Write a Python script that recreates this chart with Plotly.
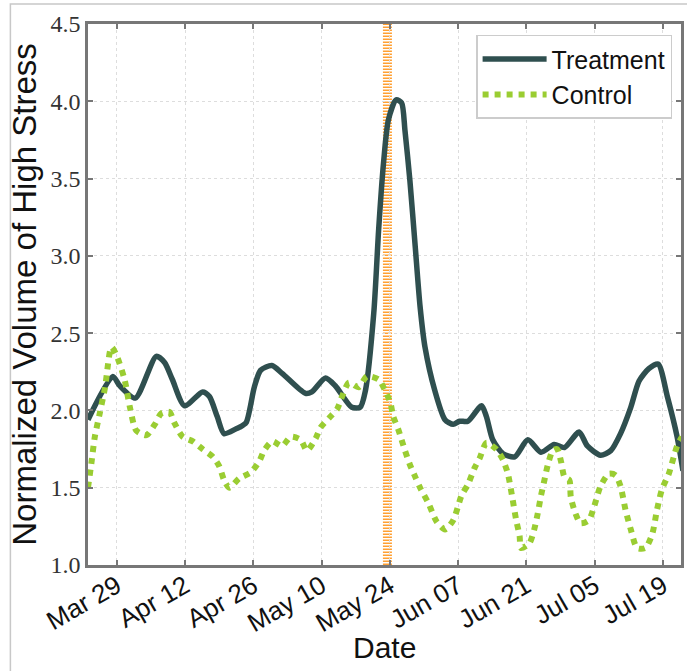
import pandas as pd
import plotly.graph_objects as go

# Day offsets relative to Mar 29
base_date = "2015-03-29"

treat_days = [-5.9, -0.8, 0.6, 3.8, 8.1, 9.8, 11.4, 13.9, 17.6, 19.0, 20.6, 22.0, 24.4, 25.1,
              26.5, 28.2, 29.5, 31.8, 33.9, 38.7, 40.0, 42.8, 44.8, 48.2, 49.9, 51.0, 52.7,
              53.7, 54.7, 55.7, 57.3, 58.4, 59.1, 60.1, 61.2, 62.2, 63.2, 65.2, 67.3, 69.0,
              70.3, 72.0, 74.8, 75.8, 77.1, 79.2, 81.6, 84.3, 87.0, 89.7, 91.8, 94.8, 96.5,
              99.2, 101.3, 103.3, 105.4, 107.1, 109.1, 111.0, 112.9, 114.9, 116.1]
treat_vals = [1.94, 2.22, 2.16, 2.08, 2.35, 2.31, 2.20, 2.03, 2.12, 2.09, 1.96, 1.85, 1.88, 1.89,
              1.92, 2.15, 2.26, 2.29, 2.24, 2.11, 2.12, 2.21, 2.16, 2.02, 2.02, 2.13, 2.63,
              3.17, 3.60, 3.88, 4.01, 3.99, 3.81, 3.49, 3.06, 2.67, 2.41, 2.13, 1.94, 1.91,
              1.93, 1.93, 2.03, 1.96, 1.81, 1.72, 1.70, 1.81, 1.73, 1.78, 1.76, 1.86, 1.77,
              1.71, 1.74, 1.85, 2.02, 2.19, 2.27, 2.30, 2.09, 1.83, 1.61]

ctrl_days = [-5.9, -5.2, -4.5, -3.5, -2.4, -1.1, -0.1, 1.6, 2.7, 4.0, 6.1, 7.8, 9.1, 10.8, 11.8,
             13.5, 15.6, 17.6, 19.7, 21.0, 22.0, 23.1, 25.1, 27.5, 29.2, 30.2, 31.9, 33.9,
             35.7, 37.7, 39.0, 40.8, 41.8, 43.5, 45.2, 46.2, 47.6, 49.6, 51.3, 53.7, 55.0,
             56.1, 56.7, 57.8, 59.1, 60.1, 61.2, 62.2, 63.9, 65.6, 67.3, 69.0, 70.7, 72.0,
             73.4, 74.4, 75.8, 77.8, 79.2, 80.2, 81.2, 81.9, 82.6, 82.9, 84.6, 85.6, 86.3,
             87.0, 87.7, 88.4, 89.4, 90.3, 91.1, 91.8, 92.8, 93.1, 94.1, 95.1, 96.8, 97.9,
             99.2, 100.9, 102.3, 103.3, 104.3, 105.4, 106.7, 108.4, 109.8, 110.8, 111.8,
             113.2, 114.9, 115.9]
ctrl_vals = [1.50, 1.66, 1.83, 1.98, 2.15, 2.41, 2.36, 2.20, 2.02, 1.87, 1.84, 1.91, 1.98, 1.99, 1.92,
             1.83, 1.80, 1.75, 1.70, 1.64, 1.55, 1.50, 1.56, 1.60, 1.67, 1.74, 1.80, 1.77,
             1.83, 1.81, 1.74, 1.82, 1.89, 1.95, 2.01, 2.09, 2.18, 2.15, 2.22, 2.20, 2.13,
             2.05, 1.96, 1.87, 1.74, 1.65, 1.57, 1.50, 1.40, 1.28, 1.23, 1.29, 1.45, 1.52,
             1.63, 1.69, 1.79, 1.75, 1.68, 1.59, 1.42, 1.29, 1.19, 1.11, 1.14, 1.23, 1.33,
             1.45, 1.55, 1.65, 1.74, 1.75, 1.67, 1.57, 1.55, 1.44, 1.33, 1.27, 1.29, 1.38,
             1.51, 1.59, 1.58, 1.51, 1.36, 1.23, 1.11, 1.11, 1.20, 1.36, 1.49,
             1.59, 1.77, 1.83]

event_day = 55.5
x_range_days = [-5.9, 115.7]
y_range = [1.0, 4.5]

tick_dates = ["2015-03-29", "2015-04-12", "2015-04-26", "2015-05-10", "2015-05-24",
              "2015-06-07", "2015-06-21", "2015-07-05", "2015-07-19"]
tick_labels = ["Mar 29", "Apr 12", "Apr 26", "May 10", "May 24",
               "Jun 07", "Jun 21", "Jul 05", "Jul 19"]
y_ticks = [1.0, 1.5, 2.0, 2.5, 3.0, 3.5, 4.0, 4.5]

b = pd.Timestamp(base_date)
to_date = lambda d: b + pd.to_timedelta(d, unit="D")
treat_x = [to_date(d) for d in treat_days]
ctrl_x = [to_date(d) for d in ctrl_days]
event_x = to_date(event_day)
xr = [to_date(d) for d in x_range_days]

fig = go.Figure()
fig.add_trace(go.Scatter(x=treat_x, y=treat_vals, mode="lines", name="Treatment",
                         line=dict(color="#2F4F4F", width=5.5, shape="spline", smoothing=0.7)))
fig.add_trace(go.Scatter(x=ctrl_x, y=ctrl_vals, mode="lines", name="Control",
                         line=dict(color="#9ACD32", width=6, dash="dot",
                                   shape="spline", smoothing=0.7)))

fig.add_shape(type="line", xref="x", yref="y", x0=event_x, x1=event_x, y0=1.0, y1=4.5,
              line=dict(color="#FFA033", width=9, dash="1.5px,1.5px"), layer="below")

# outer thin frame
fig.add_shape(type="rect", xref="paper", yref="paper",
              x0=(10 - 88) / 596, x1=1.2, y0=1 + 20 / 541, y1=-0.5,
              line=dict(color="#c8c8c8", width=1.5), layer="below")

axis_common = dict(showline=True, linecolor="#777777", linewidth=2.5, mirror="allticks",
                   ticks="inside", ticklen=5, tickcolor="#777777", tickwidth=1.5,
                   showgrid=True, gridcolor="#dddddd", griddash="dot", gridwidth=1,
                   zeroline=False)

fig.update_xaxes(type="date", range=xr, tickvals=[pd.Timestamp(t) for t in tick_dates],
                 ticktext=tick_labels, tickangle=-30, ticklabelstandoff=-7,
                 tickfont=dict(family="Liberation Sans, Arial", size=26, color="#111111"),
                 **axis_common)
fig.update_yaxes(range=y_range, tickvals=y_ticks, ticktext=[f"{v:.1f}" for v in y_ticks],
                 tickfont=dict(family="Liberation Serif, serif", size=24, color="#333333"),
                 title=dict(text="Normalized Volume of High Stress",
                            font=dict(family="Liberation Sans, Arial", size=33, color="#111111"),
                            standoff=4),
                 **axis_common)

fig.add_annotation(text="Date", xref="paper", yref="paper", x=0.5, y=-0.153,
                   xanchor="center", yanchor="middle", showarrow=False,
                   font=dict(family="Liberation Sans, Arial", size=30, color="#111111"))

fig.update_layout(
    width=687, height=671,
    margin=dict(l=88, r=3, t=24, b=106),
    plot_bgcolor="white", paper_bgcolor="white",
    showlegend=True,
    legend=dict(x=0.985, y=0.98, xanchor="right", yanchor="top",
                bgcolor="white", bordercolor="#cccccc", borderwidth=1.5,
                font=dict(family="Liberation Sans, Arial", size=25, color="#111111"),
                itemwidth=64, tracegroupgap=0),
)

fig.write_html("out.html", config={"displayModeBar": False},
               post_script="document.body.style.margin='0';"
                           "document.documentElement.style.overflow='hidden';")
